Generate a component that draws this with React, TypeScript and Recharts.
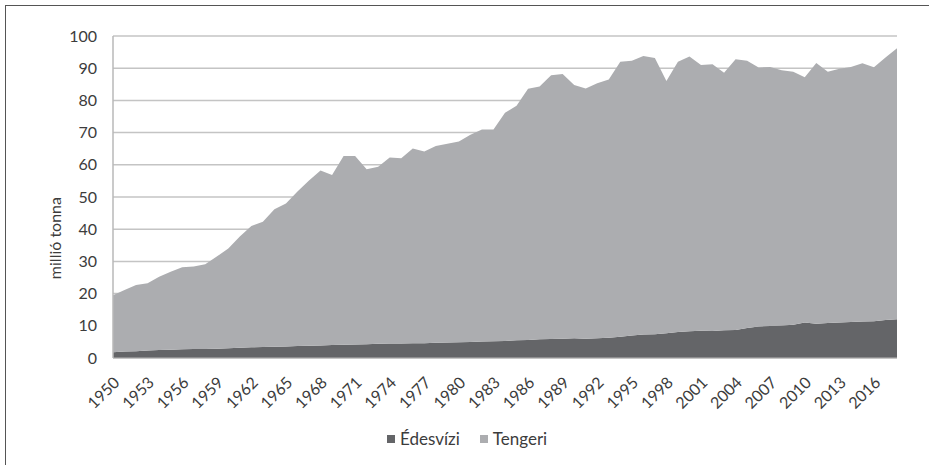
import { Area, AreaChart, CartesianGrid, XAxis, YAxis } from "recharts";

const years = [
  1950, 1951, 1952, 1953, 1954, 1955, 1956, 1957, 1958, 1959, 1960, 1961, 1962, 1963, 1964, 1965,
  1966, 1967, 1968, 1969, 1970, 1971, 1972, 1973, 1974, 1975, 1976, 1977, 1978, 1979, 1980, 1981,
  1982, 1983, 1984, 1985, 1986, 1987, 1988, 1989, 1990, 1991, 1992, 1993, 1994, 1995, 1996, 1997,
  1998, 1999, 2000, 2001, 2002, 2003, 2004, 2005, 2006, 2007, 2008, 2009, 2010, 2011, 2012, 2013,
  2014, 2015, 2016, 2017, 2018,
];

// freshwater (Édesvízi), million tonnes
const freshwater = [
  1.8, 2.0, 2.1, 2.3, 2.5, 2.6, 2.7, 2.8, 2.8, 2.9, 3.0, 3.2, 3.3, 3.4, 3.5, 3.6,
  3.7, 3.8, 3.9, 4.0, 4.1, 4.2, 4.3, 4.4, 4.5, 4.5, 4.6, 4.6, 4.7, 4.8, 4.9, 5.0,
  5.1, 5.2, 5.3, 5.5, 5.6, 5.8, 5.9, 6.0, 6.1, 6.0, 6.1, 6.3, 6.6, 7.0, 7.3, 7.4,
  7.7, 8.1, 8.3, 8.5, 8.4, 8.6, 8.7, 9.3, 9.8, 9.9, 10.1, 10.3, 11.0, 10.6, 10.9, 11.0,
  11.2, 11.3, 11.4, 11.8, 12.0,
];

const total = [
  19.5, 21.1, 22.7, 23.2, 25.2, 26.8, 28.2, 28.4, 29.1, 31.5, 34.0, 37.7, 41.0, 42.3, 46.2, 48.0,
  51.7, 55.1, 58.2, 56.8, 62.7, 62.7, 58.6, 59.4, 62.3, 62.0, 65.1, 64.1, 65.8, 66.5, 67.2, 69.3,
  71.0, 71.0, 76.2, 78.3, 83.6, 84.3, 87.8, 88.2, 84.8, 83.7, 85.3, 86.5, 92.0, 92.3, 93.8, 93.2,
  86.0, 92.0, 93.6, 91.0, 91.2, 88.6, 92.8, 92.3, 90.2, 90.4, 89.4, 88.9, 87.2, 91.6, 88.9, 89.8,
  90.4, 91.5, 90.3, 93.3, 96.2,
];

const yTicks = [0, 10, 20, 30, 40, 50, 60, 70, 80, 90, 100];

const DARK = "#646568";
const LIGHT = "#acadb0";
const TEXT = "#3c3c3c";
const FONT = "Lato, 'Open Sans', sans-serif";

const data = years.map((y, i) => ({
  year: y,
  fresh: freshwater[i],
  marine: Math.round((total[i] - freshwater[i]) * 10) / 10,
}));

const legendItems = [
  { name: "Édesvízi", color: DARK },
  { name: "Tengeri", color: LIGHT },
];

function YearTick({ x, y, payload }: any) {
  const tx = x + 3;
  const ty = y + 19;
  return (
    <text
      x={tx}
      y={ty}
      transform={`rotate(-45, ${tx}, ${ty})`}
      textAnchor="end"
      dominantBaseline="central"
      fill={TEXT}
      fontSize={16}
      fontFamily={FONT}
    >
      {payload.value}
    </text>
  );
}

export default function App() {
  return (
    <div style={{ position: "absolute", left: 0, top: 0, width: 929, height: 465, background: "#fff" }}>
      <div
        style={{
          position: "absolute",
          left: 5,
          top: 5,
          width: 924,
          height: 460,
          borderLeft: "1.5px solid #555",
          borderTop: "1.5px solid #555",
        }}
      />
      <AreaChart
        width={929}
        height={465}
        data={data}
        margin={{ top: 36, right: 32, bottom: 77, left: 73 }}
        style={{ position: "absolute", left: 0, top: 0 }}
      >
        <CartesianGrid vertical={false} stroke="#c4c4c4" strokeWidth={1.5} />
        <XAxis
          dataKey="year"
          interval={2}
          height={30}
          tick={<YearTick />}
          tickLine={false}
          axisLine={{ stroke: "#b8b8b8" }}
          tickSize={0}
        />
        <YAxis
          domain={[0, 100]}
          ticks={yTicks}
          width={40}
          tickLine={false}
          tickSize={0}
          tickMargin={16}
          axisLine={{ stroke: "#b8b8b8", strokeWidth: 1.5 }}
          tick={{ fill: TEXT, fontSize: 16, fontFamily: FONT }}
          label={{
            value: "millió tonna",
            angle: -90,
            position: "left",
            offset: 18,
            fill: TEXT,
            fontSize: 16,
            fontFamily: FONT,
          }}
        />
        <Area
          type="linear"
          dataKey="fresh"
          name="Édesvízi"
          stackId="1"
          stroke="none"
          fill={DARK}
          fillOpacity={1}
          isAnimationActive={false}
        />
        <Area
          type="linear"
          dataKey="marine"
          name="Tengeri"
          stackId="1"
          stroke="none"
          fill={LIGHT}
          fillOpacity={1}
          isAnimationActive={false}
        />
      </AreaChart>
      <div
        style={{
          position: "absolute",
          left: 387,
          top: 429,
          display: "flex",
          gap: 20,
          fontFamily: FONT,
          fontSize: 17,
          color: TEXT,
          lineHeight: "20px",
        }}
      >
        {legendItems.map((it) => (
          <span key={it.name} style={{ display: "flex", alignItems: "center", gap: 5 }}>
            <span style={{ width: 8, height: 8, background: it.color, display: "inline-block" }} />
            {it.name}
          </span>
        ))}
      </div>
    </div>
  );
}
